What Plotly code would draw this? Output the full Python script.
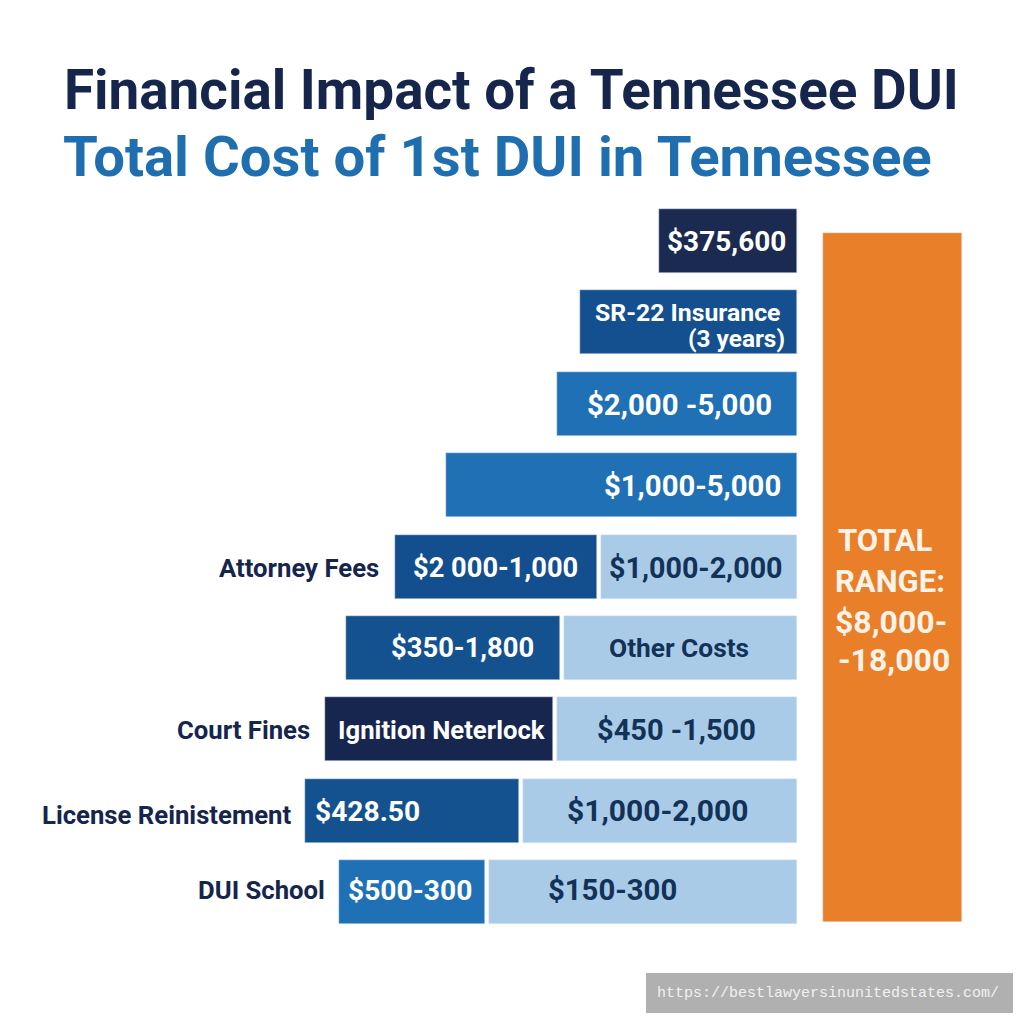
import plotly.graph_objects as go

rows = list(range(9))
outer_len = [138, 217.5, 240, 351.5, 202, 214, 228, 214, 146]
light_len = [0, 0, 0, 0, 196, 233, 240, 274, 308]
total_len = [139]

outer_colors = ["#1a2a50", "#14508f", "#1f70b5", "#1f70b5", "#134f8e",
                "#14528f", "#17264f", "#14528f", "#1f70b5"]
NAVY = "#15254c"
BLUE = "#1f6fb0"
LIGHT = "#a9cbe8"
ORANGE = "#e97f28"
INK = "#123258"
GAP = 4
ROW_PX = 81.4
PAGE_MARGIN = 8  # the browser body margin pushes the figure right and down
ROW0_PX = 241 - PAGE_MARGIN
STACK_END_PX = 797 - PAGE_MARGIN

row_labels = ["Attorney Fees", "Court Fines", "License Reinistement", "DUI School"]
row_label_pos = [(381, 568), (312, 730), (293, 815), (327, 890)]

white_texts = ["$375,600", "$2,000 -5,000", "$1,000-5,000", "$2 000-1,000", "$350-1,800",
               "Ignition Neterlock", "$428.50", "$500-300"]
white_pos = [(726, 241), (679, 405), (692, 486), (495, 568), (462, 648),
             (441, 730), (367, 811), (410, 890)]
white_sizes = [28, 29.4, 29.3, 27.3, 27.4, 25.7, 28.2, 28.2]

dark_texts = ["$1,000-2,000", "Other Costs", "$450 -1,500", "$1,000-2,000", "$150-300"]
dark_pos = [(696, 568), (679, 648), (676, 730), (658, 810), (612, 890)]
dark_sizes = [28.7, 26.3, 29, 30, 29.3]

total_texts = ["TOTAL", "RANGE:", "$8,000-", "-18,000"]
total_pos = [(885, 540), (890, 581), (891, 622), (894, 660)]

fig = go.Figure()

# light segments sit against the right end, darker ones continue to the left
fig.add_trace(go.Bar(y=rows, x=light_len, orientation="h", marker_color=LIGHT,
                     width=0.786, xaxis="x", yaxis="y"))
outer_base = [l + GAP if l else 0 for l in light_len]
fig.add_trace(go.Bar(y=rows, x=outer_len, base=outer_base, orientation="h",
                     marker_color=outer_colors, width=0.786, xaxis="x", yaxis="y"))
fig.add_trace(go.Bar(y=[4.134], x=total_len, base=[823], orientation="h",
                     marker_color=ORANGE, width=8.46, xaxis="x2", yaxis="y"))


def add_text(text, pos, size, color, anchor="center", family="Roboto", bold=True):
    fig.add_annotation(text=f"<b>{text}</b>" if bold else text,
                       x=(pos[0] - PAGE_MARGIN) / 1024, y=1 - (pos[1] - PAGE_MARGIN) / 1024,
                       xref="paper", yref="paper", xanchor=anchor, yanchor="middle",
                       showarrow=False, font=dict(family=family, size=size, color=color))


add_text("Financial Impact of a Tennessee DUI", (62, 90), 54.8, NAVY, "left")
add_text("Total Cost of 1st DUI in Tennessee", (61, 157), 56.3, BLUE, "left")

for t, p in zip(row_labels, row_label_pos):
    add_text(t, p, 25.7, NAVY, "right")
for t, p, s in zip(white_texts, white_pos, white_sizes):
    add_text(t, p, s, "white")
for t, p, s in zip(dark_texts, dark_pos, dark_sizes):
    add_text(t, p, s, INK)
add_text("SR-22 Insurance", (782, 312), 24.8, "white", "right")
add_text("(3 years)", (787, 338), 24.4, "white", "right")
for t, p, s in zip(total_texts, total_pos, [31, 31, 32, 32]):
    add_text(t, p, s, "#fdf3e8")

# site watermark
fig.add_shape(type="rect", xref="paper", yref="paper",
              x0=(646 - PAGE_MARGIN) / 1024, x1=(1013 - PAGE_MARGIN) / 1024,
              y0=1 - (1013 - PAGE_MARGIN) / 1024, y1=1 - (973 - PAGE_MARGIN) / 1024,
              fillcolor="#b0b0b0", line_width=0)
add_text("https://bestlawyersinunitedstates.com/", (828, 993), 15, "#f0f0f0",
         family="Liberation Mono", bold=False)

fig.update_layout(
    width=1024, height=1024, autosize=False,
    margin=dict(l=0, r=0, t=0, b=0),
    paper_bgcolor="white", plot_bgcolor="white",
    showlegend=False, bargap=0, barmode="overlay",
    xaxis=dict(range=[STACK_END_PX, STACK_END_PX - 1024], visible=False, fixedrange=True),
    xaxis2=dict(range=[PAGE_MARGIN, 1024 + PAGE_MARGIN], overlaying="x", visible=False, fixedrange=True),
    yaxis=dict(range=[(1024 - ROW0_PX) / ROW_PX, -ROW0_PX / ROW_PX], visible=False, fixedrange=True),
)

fig.write_html("out.html", config={"displayModeBar": False})
